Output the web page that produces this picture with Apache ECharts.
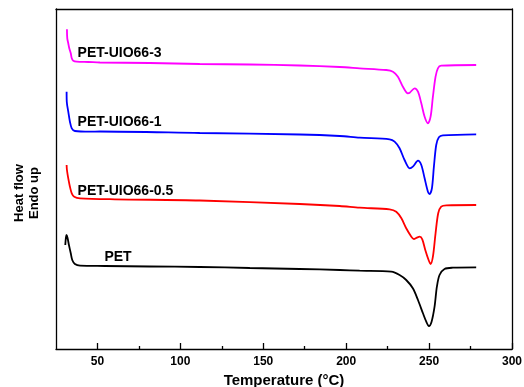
<!DOCTYPE html>
<html>
<head>
<meta charset="utf-8">
<script src="https://cdn.jsdelivr.net/npm/echarts@6/dist/echarts.min.js"></script>
<style>
html,body{margin:0;padding:0;background:#fff;}
#chart{width:524px;height:387px;}
</style>
</head>
<body>
<div id="chart"></div>
<script>
// Temperature (°C), heat flow (arbitrary units, offset stacked)
const seriesNames = ['PET-UIO66-3', 'PET-UIO66-1', 'PET-UIO66-0.5', 'PET'];
const seriesColors = ['#ff00ff', '#0000ff', '#ff0000', '#000000'];

const uio3 = [
  [31.6, 319.7], [31.8, 310.7], [32.4, 305.7], [33.0, 300.7], [33.9, 295.7], [34.5, 290.7],
  [35.4, 288.3], [37.5, 287.3], [44.5, 287.0], [51.5, 286.5], [81.6, 286.0], [111.7, 285.0],
  [141.9, 284.5], [172.0, 283.5], [196.1, 282.0], [208.1, 280.7], [224.2, 279.0], [228.2, 277.3],
  [231.2, 272.3], [234.2, 262.3], [237.2, 255.7], [238.3, 256.3], [241.3, 260.7], [243.3, 257.3],
  [245.3, 245.7], [247.3, 232.3], [249.3, 225.7], [250.9, 232.3], [252.3, 252.3], [253.9, 272.3],
  [255.3, 280.7], [257.3, 283.3], [278.4, 284.0]
];
const uio1 = [
  [31.4, 257.3], [31.5, 247.3], [32.4, 237.3], [33.4, 227.3], [34.5, 220.7], [36.4, 218.0],
  [45.5, 217.3], [51.5, 217.5], [111.7, 216.0], [172.0, 214.5], [196.1, 213.0], [208.1, 211.3],
  [226.2, 209.7], [229.2, 207.3], [232.2, 200.7], [235.2, 189.0], [238.3, 180.7], [240.2, 182.3],
  [243.3, 188.3], [245.3, 184.0], [247.3, 170.7], [249.3, 157.3], [250.3, 155.0], [251.7, 160.7],
  [252.9, 182.3], [254.3, 204.0], [255.9, 211.7], [258.3, 213.7], [278.4, 214.7]
];
const uio05 = [
  [31.4, 184.0], [31.6, 179.0], [32.4, 170.7], [33.4, 162.3], [34.5, 155.7], [36.0, 152.3],
  [39.5, 150.7], [60.5, 149.7], [111.7, 148.5], [172.0, 145.0], [196.1, 143.0], [208.1, 141.3],
  [226.2, 139.7], [230.2, 137.3], [233.3, 130.7], [236.2, 120.7], [239.3, 112.3], [240.8, 110.0],
  [242.6, 111.3], [244.3, 112.3], [245.9, 109.7], [247.7, 99.0], [249.7, 89.0], [250.9, 85.0],
  [252.3, 92.3], [253.9, 115.7], [255.5, 135.7], [257.3, 142.3], [260.4, 143.7], [278.4, 144.0]
];
const pet = [
  [30.6, 104.0], [31.0, 111.7], [31.4, 114.0], [32.0, 110.7], [32.8, 104.0], [33.9, 95.7],
  [34.8, 89.0], [36.4, 85.0], [39.5, 83.3], [54.5, 83.0], [81.6, 82.5], [111.7, 82.0],
  [141.9, 81.0], [172.0, 80.0], [196.1, 79.0], [208.1, 78.3], [227.2, 77.3], [232.2, 74.0],
  [236.2, 69.0], [240.2, 60.7], [243.3, 49.0], [246.3, 35.7], [248.3, 27.3], [249.9, 23.0],
  [251.5, 27.3], [253.3, 42.3], [254.7, 62.3], [256.3, 74.0], [259.3, 80.0], [264.3, 81.3],
  [278.4, 81.7]
];
const seriesData = [uio3, uio1, uio05, pet];
// label anchor (temperature, heat flow) for each curve name
const labelAnchors = [[37.7, 296], [37.7, 227], [37.7, 158], [53.9, 92]];

const majorTicks = [50, 100, 150, 200, 250, 300];
const minorTicks = [75, 125, 175, 225, 275];
const xMin = 25, xMax = 300;
const yMin = 0, yMax = 340;

const chart = echarts.init(document.getElementById('chart'), null, {renderer: 'canvas'});

const series = seriesNames.map((name, i) => ({
  name: name,
  type: 'line',
  data: seriesData[i],
  showSymbol: false,
  smooth: 0.3,
  lineStyle: {color: seriesColors[i], width: 1.8},
  itemStyle: {color: seriesColors[i]},
  animation: false,
  markPoint: {
    symbol: 'circle',
    symbolSize: 1,
    itemStyle: {color: 'rgba(0,0,0,0)'},
    label: {
      show: true,
      position: 'right',
      distance: 0,
      formatter: name,
      color: '#000',
      fontWeight: 'bold',
      fontSize: 14,
      fontFamily: 'Liberation Sans, Arial, sans-serif'
    },
    data: [{coord: labelAnchors[i]}]
  }
}));

const lineStyle = {color: '#000', width: 1.3};
const font = 'Liberation Sans, Arial, sans-serif';

chart.setOption({
  animation: false,
  backgroundColor: '#fff',
  grid: {left: 56, right: 12, top: 9, bottom: 38, containLabel: false, outerBoundsMode: 'none'},
  xAxis: [
    {
      type: 'value', min: xMin, max: xMax, position: 'bottom',
      name: 'Temperature (°C)', nameLocation: 'middle', nameGap: 20,
      nameTextStyle: {fontSize: 15, fontWeight: 'bold', color: '#000', fontFamily: font},
      axisLine: {show: true, lineStyle: lineStyle},
      axisTick: {show: true, inside: true, length: 6, customValues: majorTicks, lineStyle: {color: '#000', width: 1.3}},
      axisLabel: {show: true, customValues: majorTicks, margin: 7, fontSize: 12, fontWeight: 'bold', color: '#000', fontFamily: font},
      splitLine: {show: false}
    },
    {
      type: 'value', min: xMin, max: xMax, position: 'bottom',
      axisLine: {show: false},
      axisTick: {show: true, inside: true, length: 3, customValues: minorTicks, lineStyle: {color: '#000', width: 1.3}},
      axisLabel: {show: false},
      splitLine: {show: false}
    },
    {
      type: 'value', min: xMin, max: xMax, position: 'top',
      axisLine: {show: true, lineStyle: lineStyle},
      axisTick: {show: false}, axisLabel: {show: false}, splitLine: {show: false}
    }
  ],
  yAxis: [
    {
      type: 'value', min: yMin, max: yMax, position: 'left',
      name: 'Heat flow\nEndo up', nameLocation: 'middle', nameGap: 14, nameRotate: 90,
      nameTextStyle: {fontSize: 13, fontWeight: 'bold', color: '#000', fontFamily: font, lineHeight: 15, padding: [0, 28, 0, 0]},
      axisLine: {show: true, lineStyle: lineStyle},
      axisTick: {show: false}, axisLabel: {show: false}, splitLine: {show: false}
    },
    {
      type: 'value', min: yMin, max: yMax, position: 'right',
      axisLine: {show: true, lineStyle: lineStyle},
      axisTick: {show: false}, axisLabel: {show: false}, splitLine: {show: false}
    }
  ],
  series: series
});
</script>
</body>
</html>
